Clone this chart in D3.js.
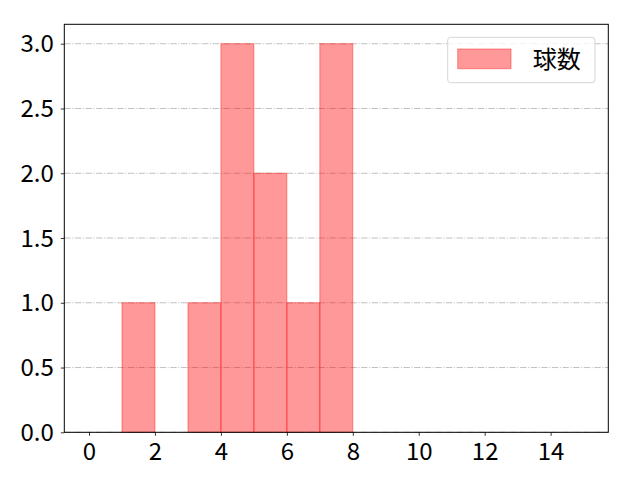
<!DOCTYPE html>
<html>
<head>
<meta charset="utf-8">
<script src="https://cdn.jsdelivr.net/npm/d3@7"></script>
<style>
  body { margin: 0; background: #fff; }
  svg { display: block; font-family: "Noto Sans CJK JP", "DejaVu Sans", sans-serif; }
</style>
</head>
<body>
<svg id="chart" width="640" height="480"></svg>
<script>
// histogram bins (left edge, right edge, count)
const binStarts = [0, 1, 2, 3, 4, 5, 6, 7];
const binEnds = [1, 2, 3, 4, 5, 6, 7, 8];
const binCounts = [0, 1, 0, 1, 3, 2, 1, 3];
const xTicks = [0, 2, 4, 6, 8, 10, 12, 14];
const yTicks = [0, 0.5, 1.0, 1.5, 2.0, 2.5, 3.0];
const seriesName = '球数';

const margin = { top: 24.3, right: 31.7, bottom: 47.7, left: 64.3 };
const width = 640 - margin.left - margin.right;
const height = 480 - margin.top - margin.bottom;

const svg = d3.select('#chart');
const g = svg.append('g').attr('transform', `translate(${margin.left}, ${margin.top})`);

const xScale = d3.scaleLinear().domain([-0.75, 15.75]).range([0, width]);
const yScale = d3.scaleLinear().domain([0, 3.15]).range([height, 0]);

// grid
g.append('g')
    .selectAll('line')
    .data(yTicks)
    .enter()
    .append('line')
    .attr('x1', 0)
    .attr('x2', width)
    .attr('y1', d => yScale(d))
    .attr('y2', d => yScale(d))
    .attr('stroke', '#b0b0b0')
    .attr('stroke-width', 0.8)
    .attr('stroke-dasharray', '6.4,1.6,1,1.6');

const bins = binStarts.map((s, i) => ({ x0: s, x1: binEnds[i], n: binCounts[i] }));

g.append('g')
    .selectAll('rect')
    .data(bins.filter(d => d.n > 0))
    .enter()
    .append('rect')
    .attr('x', d => xScale(d.x0))
    .attr('y', d => yScale(d.n))
    .attr('width', d => xScale(d.x1) - xScale(d.x0))
    .attr('height', d => yScale(0) - yScale(d.n))
    .attr('fill', 'rgba(255,0,0,0.4)')
    .attr('stroke', 'rgba(255,0,0,0.4)')
    .attr('stroke-width', 1);

// axes
const xAxis = g.append('g')
    .attr('transform', `translate(0, ${height})`)
    .call(d3.axisBottom(xScale).tickValues(xTicks).tickSize(3.5).tickPadding(5).tickFormat(d3.format('d')));
const yAxis = g.append('g')
    .call(d3.axisLeft(yScale).tickValues(yTicks).tickSize(3.5).tickPadding(7).tickFormat(d3.format('.1f')));
[xAxis, yAxis].forEach(a => {
    a.select('.domain').remove();
    a.selectAll('line').attr('stroke', '#000').attr('stroke-width', 0.8);
    a.selectAll('text').attr('fill', '#000').attr('font-size', 24).attr('font-family', '"Noto Sans CJK JP", sans-serif');
});
yAxis.selectAll('text').attr('dy', '0.34em');
xAxis.selectAll('text').attr('dy', '0.78em');

// frame
g.append('rect')
    .attr('width', width)
    .attr('height', height)
    .attr('fill', 'none')
    .attr('stroke', '#000')
    .attr('stroke-width', 1);

// legend
const legend = svg.append('g').attr('transform', 'translate(447.7, 37.3)');
legend.append('rect')
    .attr('width', 147.3)
    .attr('height', 45.4)
    .attr('rx', 3)
    .attr('fill', 'rgba(255,255,255,0.8)')
    .attr('stroke', '#d6d6d6')
    .attr('stroke-width', 1);
legend.append('rect')
    .attr('x', 10)
    .attr('y', 11.7)
    .attr('width', 53.3)
    .attr('height', 19.7)
    .attr('fill', 'rgba(255,0,0,0.4)')
    .attr('stroke', 'rgba(255,0,0,0.4)');
legend.append('text')
    .attr('x', 85)
    .attr('y', 22)
    .attr('dy', '0.35em')
    .attr('font-size', 24)
    .attr('fill', '#000')
    .text(seriesName);
</script>
</body>
</html>
